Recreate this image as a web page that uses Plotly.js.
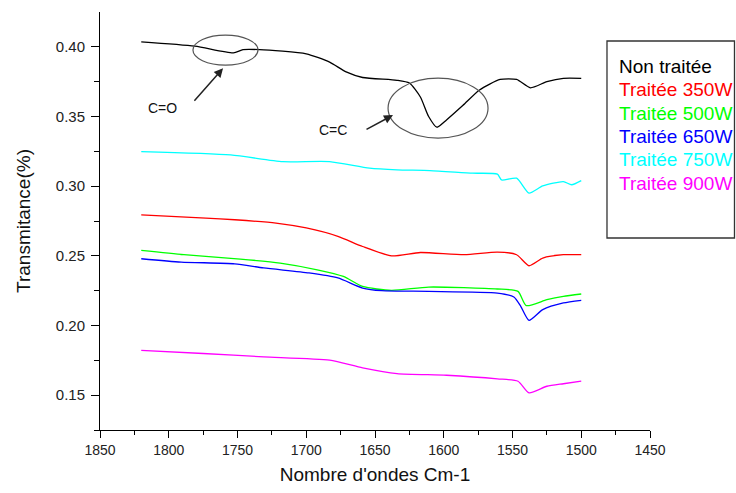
<!DOCTYPE html>
<html>
<head>
<meta charset="utf-8">
<script src="https://cdn.plot.ly/plotly-3.0.1.min.js"></script>
<style>html,body{margin:0;padding:0;background:#fff;}#chart{width:736px;height:493px;}</style>
</head>
<body>
<div id="chart"></div>
<script>
// Non traitée
var xNon = [1820, 1781, 1753, 1746, 1734, 1700, 1683, 1671, 1659, 1634, 1625, 1617, 1611, 1605, 1598, 1586, 1574, 1559, 1547, 1537, 1525, 1513, 1500];
var yNon = [0.4036, 0.4005, 0.3957, 0.3980, 0.3980, 0.3950, 0.3890, 0.3820, 0.3780, 0.3760, 0.3740, 0.3640, 0.3500, 0.3423, 0.3475, 0.3580, 0.3690, 0.3766, 0.3766, 0.3706, 0.3750, 0.3774, 0.3774];
// Traitée 350W
var x350 = [1820, 1773, 1752, 1722, 1700, 1677, 1659, 1638, 1617, 1585, 1561, 1547, 1538, 1528, 1513, 1500];
var y350 = [0.2794, 0.2771, 0.2759, 0.2735, 0.2700, 0.2640, 0.2567, 0.2500, 0.2524, 0.2508, 0.2527, 0.2508, 0.2429, 0.2484, 0.2508, 0.2508];
// Traitée 500W
var x500 = [1820, 1789, 1748, 1719, 1692, 1673, 1659, 1638, 1611, 1561, 1546, 1540, 1525, 1513, 1500];
var y500 = [0.2539, 0.2508, 0.2477, 0.2448, 0.2400, 0.2352, 0.2280, 0.2252, 0.2276, 0.2262, 0.2245, 0.2143, 0.2185, 0.2209, 0.2226];
// Traitée 650W
var x650 = [1820, 1791, 1752, 1731, 1698, 1677, 1659, 1645, 1611, 1561, 1549, 1544, 1538, 1528, 1513, 1500];
var y650 = [0.2479, 0.2455, 0.2443, 0.2413, 0.2377, 0.2341, 0.2269, 0.2250, 0.2245, 0.2233, 0.2205, 0.2138, 0.2037, 0.2114, 0.2162, 0.2181];
// Traitée 750W
var x750 = [1820, 1755, 1717, 1683, 1654, 1634, 1610, 1579, 1561, 1558, 1547, 1538, 1528, 1513, 1507, 1500];
var y750 = [0.3248, 0.3224, 0.3176, 0.3176, 0.3129, 0.3117, 0.3112, 0.3093, 0.3086, 0.3045, 0.3057, 0.2950, 0.3002, 0.3033, 0.3010, 0.3040];
// Traitée 900W
var x900 = [1820, 1775, 1731, 1683, 1659, 1634, 1598, 1561, 1546, 1538, 1525, 1513, 1500];
var y900 = [0.1822, 0.1799, 0.1775, 0.1751, 0.1696, 0.1655, 0.1643, 0.1617, 0.1600, 0.1517, 0.1564, 0.1582, 0.1600];

var seriesNames = ["Non traitée", "Traitée 350W", "Traitée 500W", "Traitée 650W", "Traitée 750W", "Traitée 900W"];
var seriesColors = ["#000000", "#ff0000", "#00ff00", "#0000ff", "#00ffff", "#ff00ff"];
var xs = [xNon, x350, x500, x650, x750, x900];
var ys = [yNon, y350, y500, y650, y750, y900];

var FONT = "Liberation Sans, Arial, sans-serif";

var traces = xs.map(function (x, i) {
  return {
    x: x, y: ys[i], type: "scatter", mode: "lines", name: seriesNames[i],
    line: {color: seriesColors[i], width: 1.3, shape: "spline", smoothing: 0.6},
    showlegend: false, hoverinfo: "skip"
  };
});

var annotations = seriesNames.map(function (n, i) {
  return {
    xref: "paper", yref: "paper", x: (617 - 100) / 550, y: (430 - (66.7 + i * 23.3)) / 418,
    xanchor: "left", yanchor: "middle", text: n, showarrow: false,
    font: {family: FONT, size: 19, color: seriesColors[i]}
  };
});

annotations.push({
  x: 1760.5, y: 0.3847, xref: "x", yref: "y", ax: -30, ay: 34, text: "",
  showarrow: true, arrowhead: 2, arrowsize: 1.2, arrowwidth: 1.5, arrowcolor: "#222"
});
annotations.push({
  x: 1804.9, y: 0.356, xref: "x", yref: "y", text: "C=O", showarrow: false,
  font: {family: FONT, size: 14, color: "#111"}
});
annotations.push({
  x: 1636.9, y: 0.351, xref: "x", yref: "y", ax: -28, ay: 15, text: "",
  showarrow: true, arrowhead: 2, arrowsize: 1.2, arrowwidth: 1.5, arrowcolor: "#222"
});
annotations.push({
  x: 1680.5, y: 0.340, xref: "x", yref: "y", text: "C=C", showarrow: false,
  font: {family: FONT, size: 14, color: "#111"}
});

var shapes = [
  {type: "circle", xref: "x", yref: "y", x0: 1782.4, x1: 1735.1, y0: 0.3869, y1: 0.4084,
   line: {color: "#555", width: 1.2}},
  {type: "circle", xref: "x", yref: "y", x0: 1640.5, x1: 1567.8, y0: 0.3345, y1: 0.3775,
   line: {color: "#555", width: 1.2}},
  {type: "rect", xref: "paper", yref: "paper", x0: 0.9218, x1: 1.1536, y0: 0.4593, y1: 0.9306,
   line: {color: "#333", width: 1.3}, fillcolor: "rgba(255,255,255,0)"}
];

var layout = {
  width: 736, height: 493,
  margin: {l: 100, r: 86, t: 12, b: 63},
  paper_bgcolor: "#fff", plot_bgcolor: "#fff",
  font: {family: FONT, size: 14, color: "#222"},
  showlegend: false,
  xaxis: {
    range: [1850, 1450], tickvals: [1850, 1800, 1750, 1700, 1650, 1600, 1550, 1500, 1450],
    ticktext: ["1850", "1800", "1750", "1700", "1650", "1600", "1550", "1500", "1450"],
    showgrid: false, zeroline: false, showline: true, linecolor: "#000", linewidth: 1,
    ticks: "outside", ticklen: 7, tickcolor: "#000", tickwidth: 1,
    minor: {dtick: 25, ticks: "outside", ticklen: 4, tickcolor: "#000", showgrid: false},
    tickfont: {family: FONT, size: 14, color: "#222"},
    title: {text: "Nombre d'ondes Cm-1", font: {family: FONT, size: 19, color: "#111"}, standoff: 10}
  },
  yaxis: {
    range: [0.125, 0.425], tickvals: [0.15, 0.20, 0.25, 0.30, 0.35, 0.40],
    ticktext: ["0.15", "0.20", "0.25", "0.30", "0.35", "0.40"],
    showgrid: false, zeroline: false, showline: true, linecolor: "#000", linewidth: 1,
    ticks: "outside", ticklen: 8, tickcolor: "#000", tickwidth: 1, ticklabelstandoff: 3,
    minor: {tickvals: [0.125, 0.175, 0.225, 0.275, 0.325, 0.375], ticks: "outside", ticklen: 5, tickcolor: "#000", showgrid: false},
    tickfont: {family: FONT, size: 15, color: "#222"},
    title: {text: "Transmitance(%)", font: {family: FONT, size: 19, color: "#111"}, standoff: 20}
  },
  annotations: annotations,
  shapes: shapes
};

Plotly.newPlot("chart", traces, layout, {displayModeBar: false, staticPlot: true});
</script>
</body>
</html>
